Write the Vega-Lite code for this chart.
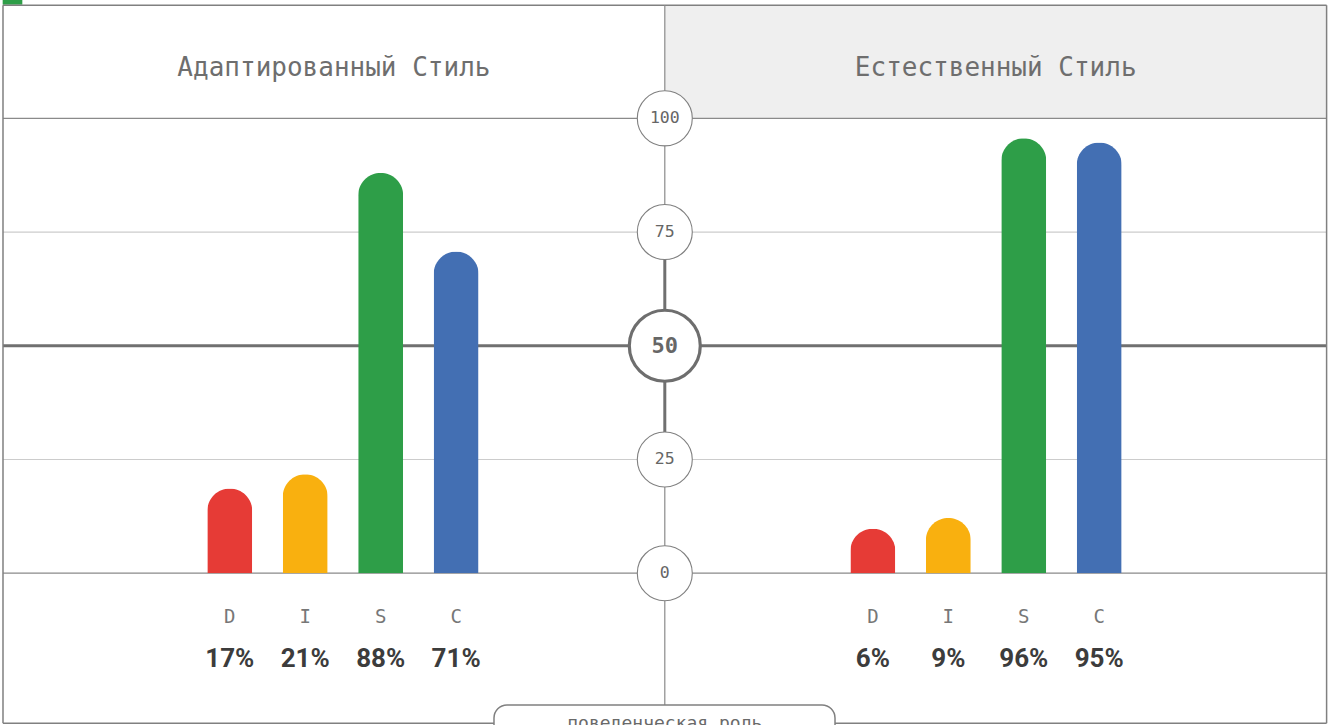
{
  "$schema": "https://vega.github.io/schema/vega-lite/v6.json",
  "width": 1329,
  "height": 725,
  "padding": 0,
  "autosize": {"type": "none"},
  "background": "white",
  "config": {"view": {"stroke": null}, "axis": {"disable": true}, "legend": {"disable": true}},
  "resolve": {"scale": {"x": "independent"}},
  "layer": [
    {
      "data": {"values": [{}]},
      "layer": [
        {
          "mark": {"type": "rect", "fill": "#efefef"},
          "encoding": {
            "x": {"datum": 1, "type": "quantitative", "scale": {"domain": [-0.004533, 2.003627], "nice": false, "zero": false}, "axis": null},
            "x2": {"datum": 2},
            "y": {"datum": 100, "type": "quantitative", "scale": {"domain": [-33.37, 126.01], "nice": false, "zero": false}, "axis": null},
            "y2": {"datum": 124.84}
          }
        },
        {
          "mark": {"type": "rect", "fill": "#2e9e48"},
          "encoding": {
            "x": {"datum": -0.0005, "type": "quantitative"},
            "x2": {"datum": 0.0292},
            "y": {"datum": 124.98, "type": "quantitative"},
            "y2": {"datum": 126.01}
          }
        },
        {
          "data": {"values": [{"tick": 100}, {"tick": 75}, {"tick": 25}, {"tick": 0}]},
          "mark": {"type": "rule"},
          "encoding": {
            "x": {"datum": 0, "type": "quantitative"},
            "x2": {"datum": 2},
            "y": {"field": "tick", "type": "quantitative"},
            "stroke": {"condition": {"test": "datum.tick === 25 || datum.tick === 75", "value": "#cccccc"}, "value": "#8a8a8a"},
            "strokeWidth": {"value": 1.2}
          }
        },
        {
          "mark": {"type": "rule", "stroke": "#707070", "strokeWidth": 3},
          "encoding": {
            "x": {"datum": 0, "type": "quantitative"},
            "x2": {"datum": 2},
            "y": {"datum": 50, "type": "quantitative"}
          }
        },
        {
          "mark": {"type": "rule", "stroke": "#808080", "strokeWidth": 1.5},
          "encoding": {
            "x": {"datum": 0, "type": "quantitative"},
            "x2": {"datum": 2},
            "y": {"datum": 124.84, "type": "quantitative"}
          }
        },
        {
          "mark": {"type": "rule", "stroke": "#808080", "strokeWidth": 1.5},
          "encoding": {
            "x": {"datum": 0, "type": "quantitative"},
            "x2": {"datum": 2},
            "y": {"datum": -33.0, "type": "quantitative"}
          }
        },
        {
          "mark": {"type": "rule", "stroke": "#808080", "strokeWidth": 1.5},
          "encoding": {
            "x": {"datum": 0, "type": "quantitative"},
            "y": {"datum": 124.84, "type": "quantitative"},
            "y2": {"datum": -33.0}
          }
        },
        {
          "mark": {"type": "rule", "stroke": "#808080", "strokeWidth": 1.5},
          "encoding": {
            "x": {"datum": 2, "type": "quantitative"},
            "y": {"datum": 124.84, "type": "quantitative"},
            "y2": {"datum": -33.0}
          }
        },
        {
          "mark": {"type": "rule", "stroke": "#8a8a8a", "strokeWidth": 1.2},
          "encoding": {
            "x": {"datum": 1, "type": "quantitative"},
            "y": {"datum": 124.84, "type": "quantitative"},
            "y2": {"datum": -28.97}
          }
        },
        {
          "mark": {"type": "rule", "stroke": "#707070", "strokeWidth": 3},
          "encoding": {
            "x": {"datum": 1, "type": "quantitative"},
            "y": {"datum": 75, "type": "quantitative"},
            "y2": {"datum": 25}
          }
        },
        {
          "data": {"values": [{"tick": 100}, {"tick": 75}, {"tick": 50}, {"tick": 25}, {"tick": 0}]},
          "mark": {"type": "point", "shape": "circle", "filled": true, "fill": "white", "opacity": 1},
          "encoding": {
            "x": {"datum": 1, "type": "quantitative"},
            "y": {"field": "tick", "type": "quantitative"},
            "size": {"condition": {"test": "datum.tick === 50", "value": 5041}, "value": 3025},
            "stroke": {"condition": {"test": "datum.tick === 50", "value": "#6e6e6e"}, "value": "#808080"},
            "strokeWidth": {"condition": {"test": "datum.tick === 50", "value": 3.2}, "value": 1.1}
          }
        },
        {
          "data": {"values": [{"tick": 100}, {"tick": 75}, {"tick": 25}, {"tick": 0}]},
          "mark": {"type": "text", "font": "DejaVu Sans Mono", "fontSize": 16.5, "fill": "#666666", "align": "center", "baseline": "middle"},
          "encoding": {
            "x": {"datum": 1, "type": "quantitative"},
            "y": {"field": "tick", "type": "quantitative"},
            "text": {"field": "tick", "type": "quantitative"}
          }
        },
        {
          "data": {"values": [{"tick": 50}]},
          "mark": {"type": "text", "font": "DejaVu Sans Mono", "fontSize": 22, "fontWeight": "bold", "fill": "#666666", "align": "center", "baseline": "middle"},
          "encoding": {
            "x": {"datum": 1, "type": "quantitative"},
            "y": {"field": "tick", "type": "quantitative"},
            "text": {"field": "tick", "type": "quantitative"}
          }
        },
        {
          "mark": {"type": "text", "font": "DejaVu Sans Mono", "fontSize": 26, "fill": "#6e6e6e", "align": "center", "baseline": "middle", "text": "Адаптированный Стиль"},
          "encoding": {
            "x": {"datum": 0.5, "type": "quantitative"},
            "y": {"datum": 111.0, "type": "quantitative"}
          }
        },
        {
          "mark": {"type": "text", "font": "DejaVu Sans Mono", "fontSize": 26, "fill": "#6e6e6e", "align": "center", "baseline": "middle", "text": "Естественный Стиль"},
          "encoding": {
            "x": {"datum": 1.5, "type": "quantitative"},
            "y": {"datum": 111.0, "type": "quantitative"}
          }
        },
        {
          "mark": {"type": "rect", "fill": "white", "stroke": "#808080", "strokeWidth": 1.5, "cornerRadius": 13},
          "encoding": {
            "x": {"datum": 0.7419, "type": "quantitative"},
            "x2": {"datum": 1.2572},
            "y": {"datum": -28.97, "type": "quantitative"},
            "y2": {"datum": -40}
          }
        },
        {
          "mark": {"type": "text", "font": "DejaVu Sans Mono", "fontSize": 18, "fill": "#6a6a6a", "align": "center", "baseline": "alphabetic", "text": "поведенческая роль"},
          "encoding": {
            "x": {"datum": 1, "type": "quantitative"},
            "y": {"datum": -34.25, "type": "quantitative"}
          }
        }
      ]
    },
    {
      "data": {
        "values": [
          {"style": "Адаптированный Стиль", "letter": "D", "bar": 18.6, "label": "17%"},
          {"style": "Адаптированный Стиль", "letter": "I", "bar": 21.75, "label": "21%"},
          {"style": "Адаптированный Стиль", "letter": "S", "bar": 88.0, "label": "88%"},
          {"style": "Адаптированный Стиль", "letter": "C", "bar": 70.7, "label": "71%"},
          {"style": "Естественный Стиль", "letter": "D", "bar": 9.8, "label": "6%"},
          {"style": "Естественный Стиль", "letter": "I", "bar": 12.15, "label": "9%"},
          {"style": "Естественный Стиль", "letter": "S", "bar": 95.6, "label": "96%"},
          {"style": "Естественный Стиль", "letter": "C", "bar": 94.7, "label": "95%"}
        ]
      },
      "encoding": {
        "x": {"field": "style", "type": "nominal", "sort": ["Адаптированный Стиль", "Естественный Стиль"], "scale": {"paddingInner": 0, "paddingOuter": 0.0333}, "axis": null},
        "xOffset": {"field": "letter", "type": "nominal", "scale": {"domain": ["_a", "_b", "D", "I", "S", "C", "_c", "_d"], "paddingInner": 0.4036, "paddingOuter": 0.4636}}
      },
      "layer": [
        {
          "mark": {"type": "bar", "cornerRadiusEnd": 22.5},
          "encoding": {
            "y": {"field": "bar", "type": "quantitative", "axis": null},
            "color": {"field": "letter", "type": "nominal", "scale": {"domain": ["D", "I", "S", "C"], "range": ["#e63b36", "#f9b00f", "#2e9e48", "#436fb3"]}, "legend": null}
          }
        },
        {
          "mark": {"type": "text", "font": "DejaVu Sans Mono", "fontSize": 19, "fill": "#777777", "align": "center", "baseline": "middle"},
          "encoding": {
            "y": {"datum": -9.63, "type": "quantitative"},
            "text": {"field": "letter", "type": "nominal"}
          }
        },
        {
          "mark": {"type": "text", "font": "Roboto", "fontSize": 26, "fontWeight": "bold", "fill": "#3c3c3c", "align": "center", "baseline": "middle"},
          "encoding": {
            "y": {"datum": -18.86, "type": "quantitative"},
            "text": {"field": "label", "type": "nominal"}
          }
        }
      ]
    }
  ]
}
